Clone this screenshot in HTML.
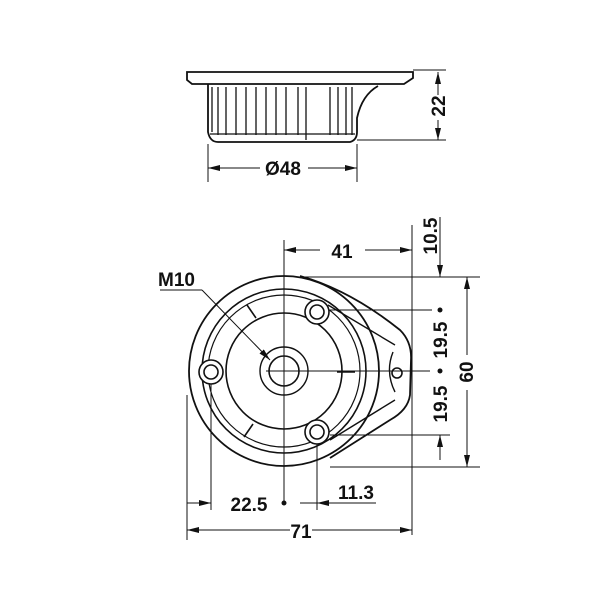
<!DOCTYPE html>
<html><head><style>html,body{margin:0;padding:0;background:#fff}svg{display:block}
text{font-family:"Liberation Sans",Arial,sans-serif;font-weight:bold;font-size:19px;fill:#111}</style></head>
<body>
<svg width="600" height="600" viewBox="0 0 600 600" xmlns="http://www.w3.org/2000/svg">
<defs>
<marker id="a" markerWidth="12" markerHeight="6" refX="12" refY="3" orient="auto" markerUnits="userSpaceOnUse"><path d="M0,0 L12,3 L0,6 z" fill="#111"/></marker>
</defs>
<g fill="none" stroke="#111">
<!-- top view -->
<path d="M187,72 L413,72 L413,78 L404,84 L192,84 L187,80 Z" stroke-width="1.8" fill="#fff"/>
<path d="M208,84 L208,132 Q210,142 218,142 L350,142 Q357,140 357,132 L357,118 Q362,95 378,86" stroke-width="1.8"/>
<g stroke-width="1.3">
<path d="M212,87 V132 M218,87 V135 M226,87 V135 M236,87 V135 M246,87 V135 M256,87 V135 M266,87 V135 M276,87 V135 M286,87 V135 M298,87 V135 M306,87 V140 M330,87 V135 M338,87 V135 M346,87 V135 M352,87 V135"/>
<path d="M210,134 H355"/>
</g>
<g stroke-width="1">
<path d="M413,70 H446 M357,140 H446 M208,144 V182 M357,144 V182"/>
</g>
<path d="M438,95 V72" marker-end="url(#a)" stroke-width="1"/>
<path d="M438,120 V140" marker-end="url(#a)" stroke-width="1"/>
<path d="M260,168 H208" marker-end="url(#a)" stroke-width="1"/>
<path d="M308,168 H357" marker-end="url(#a)" stroke-width="1"/>

<!-- main view -->
<path d="M300,276 Q350,290 400,330 Q412,342 411,360 L410,395 Q408,410 390,420 L330,458" stroke-width="1.8"/>
<circle cx="284" cy="371" r="95" stroke-width="1.8" fill="#fff"/>
<path d="M328,305 L395,345 M330,440 L395,400 M393,352 Q385,372 395,392" stroke-width="1.4"/>
<circle cx="284" cy="371" r="82" stroke-width="1.6"/>
<circle cx="284" cy="371" r="76" stroke-width="1.2"/>
<circle cx="284" cy="371" r="58" stroke-width="1.6"/>
<circle cx="284" cy="371" r="24" stroke-width="1.4"/>
<circle cx="284" cy="371" r="15" stroke-width="1.6"/>
<path d="M247,305 L256,318 M244,437 L253,424 M337,372 H355" stroke-width="1.6"/>
<g stroke-width="1.6" fill="#fff">
<circle cx="317" cy="312" r="12"/><circle cx="317" cy="312" r="7"/>
<circle cx="211" cy="372" r="12"/><circle cx="211" cy="372" r="7"/>
<circle cx="317" cy="432" r="12"/><circle cx="317" cy="432" r="7"/>
<circle cx="397" cy="373" r="5"/>
</g>
<g stroke-width="1">
<path d="M284,240 V505"/>
<path d="M412,225 V535"/>
<path d="M266,371 H430"/>
<path d="M305,277 H480"/>
<path d="M330,467 H480"/>
<path d="M330,310 H432"/>
<path d="M330,435 H450"/>
<path d="M187,395 V540"/>
<path d="M211,384 V510"/>
<path d="M317,444 V510"/>
<path d="M160,290 H202"/>
<path d="M300,503 H376"/>
</g>
<path d="M202,290 L270,360" marker-end="url(#a)" stroke-width="1"/>
<path d="M320,250 H284" marker-end="url(#a)" stroke-width="1"/>
<path d="M365,250 H412" marker-end="url(#a)" stroke-width="1"/>
<path d="M440,217 V277" marker-end="url(#a)" stroke-width="1"/>
<path d="M440,460 V435" marker-end="url(#a)" stroke-width="1"/>
<path d="M467,355 V277" marker-end="url(#a)" stroke-width="1"/>
<path d="M467,390 V467" marker-end="url(#a)" stroke-width="1"/>
<path d="M187,503 H211" marker-end="url(#a)" stroke-width="1"/>
<path d="M340,503 H317" marker-end="url(#a)" stroke-width="1"/>
<path d="M290,530 H187" marker-end="url(#a)" stroke-width="1"/>
<path d="M312,530 H412" marker-end="url(#a)" stroke-width="1"/>
</g>
<g fill="#111">
<circle cx="440" cy="310" r="2.5"/><circle cx="440" cy="371" r="2.5"/><circle cx="284" cy="503" r="2.5"/>
</g>
<text x="283" y="175" text-anchor="middle">Ø48</text>
<text transform="translate(445,106) rotate(-90)" text-anchor="middle">22</text>
<text x="342" y="258" text-anchor="middle">41</text>
<text transform="translate(437,236) rotate(-90)" text-anchor="middle">10.5</text>
<text x="158" y="286">M10</text>
<text transform="translate(447,340) rotate(-90)" text-anchor="middle">19.5</text>
<text transform="translate(447,404) rotate(-90)" text-anchor="middle">19.5</text>
<text transform="translate(473,372) rotate(-90)" text-anchor="middle">60</text>
<text x="249" y="511" text-anchor="middle">22.5</text>
<text x="356" y="499" text-anchor="middle">11.3</text>
<text x="301" y="538" text-anchor="middle">71</text>
</svg>
</body></html>
